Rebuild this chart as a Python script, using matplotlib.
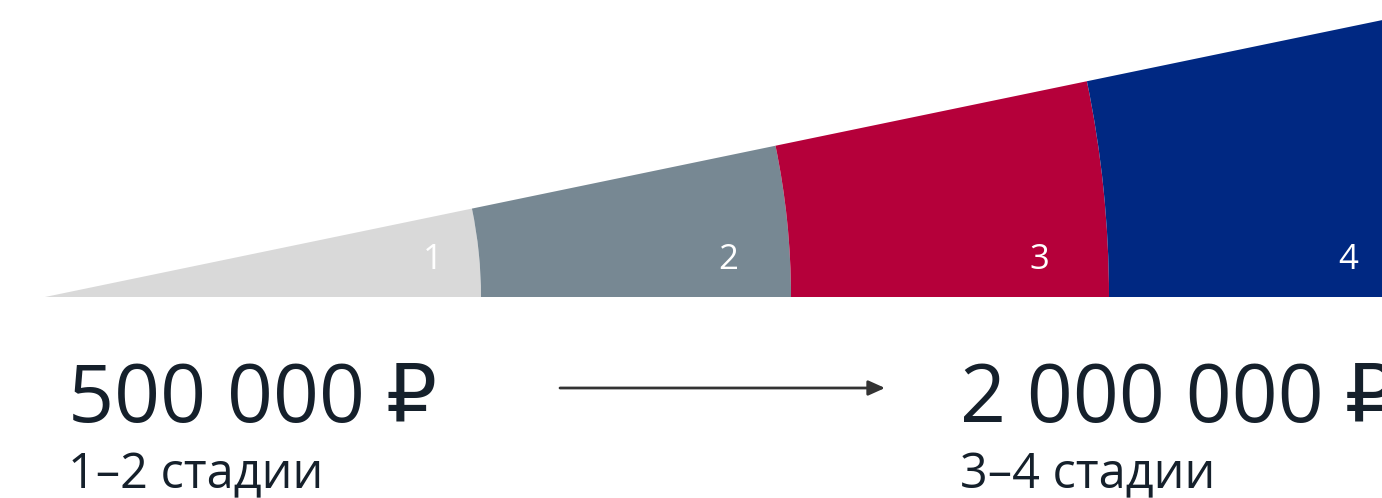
import matplotlib.pyplot as plt
from matplotlib.patches import Wedge

# stages of the cone and where each one ends (distance from the tip, px)
stages = ["1", "2", "3", "4"]
stage_ends = [436, 746, 1064, 1400]
stage_colors = ["#d9d9d9", "#778893", "#b5003a", "#002882"]

prices = ["500 000 ₽", "2 000 000 ₽"]
price_notes = ["1–2 стадии", "3–4 стадии"]

W, H = 1382, 498
tip = (45, 201)
spread = 11.7  # opening angle of the cone, degrees
fonts = ["Open Sans", "DejaVu Sans"]
ink = "#15202b"

fig = plt.figure(figsize=(W / 100, H / 100), dpi=100)
ax = fig.add_axes([0, 0, 1, 1])
ax.set_xlim(0, W)
ax.set_ylim(0, H)
ax.axis("off")

# cone sliced by arcs around the tip
inner = 0
for end, color in zip(stage_ends, stage_colors):
    ax.add_patch(Wedge(tip, end, 0, spread, width=end - inner,
                       facecolor=color, edgecolor="none"))
    inner = end

# stage numbers near the outer end of each slice
label_back = [48, 63, 70, 34]
for name, end, back in zip(stages, stage_ends, label_back):
    r = min(end, W - tip[0]) - back
    ax.text(tip[0] + r, tip[1] + 37, name, color="white", fontsize=25,
            family=fonts, ha="center", va="center")

# prices below
for x, price, note in zip([68, 960], prices, price_notes):
    ax.text(x, H - 422, price, color=ink, fontsize=58, family=fonts,
            ha="left", va="baseline")
    ax.text(x, H - 488, note, color=ink, fontsize=35, family=fonts,
            ha="left", va="baseline")

ax.annotate("", xy=(885, H - 388), xytext=(560, H - 388),
            arrowprops=dict(arrowstyle="-|>,head_length=1.0,head_width=0.45",
                            color="#333333", lw=2, shrinkA=0, shrinkB=0))

fig.savefig("out.png", dpi=100)
